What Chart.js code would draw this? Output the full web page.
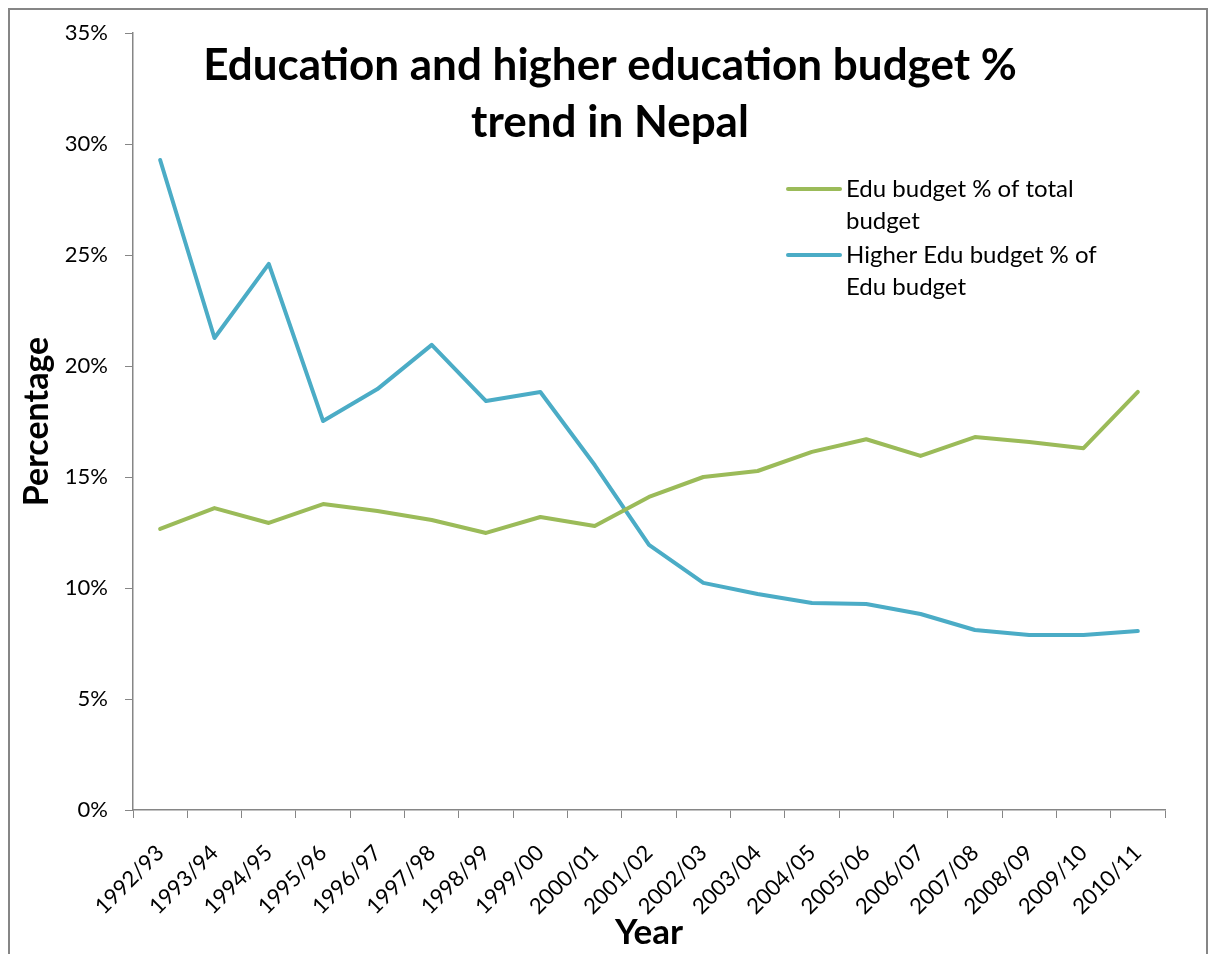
<!DOCTYPE html>
<html>
<head>
<meta charset="utf-8">
<script src="https://cdn.jsdelivr.net/npm/chart.js@4.4.1/dist/chart.umd.min.js"></script>
<style>
  body { margin: 0; background: #fff; }
  #wrap { width: 1213px; height: 954px; }
</style>
</head>
<body>
<div id="wrap"><canvas id="budget-chart" width="1213" height="954"></canvas></div>
<script>
// Fiscal years (Nepal)
const years = ['1992/93', '1993/94', '1994/95', '1995/96', '1996/97', '1997/98', '1998/99', '1999/00', '2000/01', '2001/02',
    '2002/03', '2003/04', '2004/05', '2005/06', '2006/07', '2007/08', '2008/09', '2009/10', '2010/11'];
// Education budget as % of total budget
const eduShare = [12.66, 13.6, 12.93, 13.78, 13.47, 13.06, 12.48, 13.2, 12.79, 14.1,
    15.0, 15.27, 16.13, 16.7, 15.95, 16.8, 16.58, 16.3, 18.83];
// Higher education budget as % of education budget
const higherEduShare = [29.28, 21.26, 24.6, 17.52, 18.96, 20.95, 18.42, 18.83, 15.54, 11.94,
    10.23, 9.73, 9.32, 9.28, 8.83, 8.11, 7.88, 7.88, 8.06];
const yTicks = [0, 5, 10, 15, 20, 25, 30, 35];

const titleLines = ['Education and higher education budget %', 'trend in Nepal'];
const legendLines = [['Edu budget % of total', 'budget'], ['Higher Edu budget % of', 'Edu budget']];

const FONT = 'Lato, "Open Sans", sans-serif';
const axisGray = '#868686';

// title + legend sit inside the plot, like the Excel original
const overlay = {
    id: 'overlay',
    beforeDraw(chart) {
        const c = chart.ctx;
        c.save();
        c.strokeStyle = axisGray;
        c.lineWidth = 2;
        c.strokeRect(9, 9, 1198, 960);
        c.restore();
    },
    afterDraw(chart) {
        const c = chart.ctx;
        c.save();
        c.fillStyle = '#000';
        c.textAlign = 'center';
        c.textBaseline = 'middle';
        c.font = 'bold 44px ' + FONT;
        titleLines.forEach((t, i) => c.fillText(t, 610, 66 + i * 57));

        c.textAlign = 'left';
        c.font = '24px ' + FONT;
        const rows = [189, 255];
        chart.data.datasets.forEach((ds, i) => {
            const y = rows[i];
            c.strokeStyle = ds.borderColor;
            c.lineWidth = 4;
            c.lineCap = 'round';
            c.beginPath();
            c.moveTo(788, y);
            c.lineTo(840, y);
            c.stroke();
            legendLines[i].forEach((t, j) => c.fillText(t, 846, y + j * 32));
        });
        c.restore();
    }
};

const ctx = document.getElementById('budget-chart').getContext('2d');
const budgetChart = new Chart(ctx, {
    type: 'line',
    data: {
        labels: years,
        datasets: [
            {
                label: 'Edu budget % of total budget',
                data: eduShare,
                borderColor: '#9BBB59',
                borderWidth: 4,
                pointRadius: 0,
                tension: 0,
                fill: false,
                borderJoinStyle: 'round',
                borderCapStyle: 'round',
            },
            {
                label: 'Higher Edu budget % of Edu budget',
                data: higherEduShare,
                borderColor: '#4BACC6',
                borderWidth: 4,
                pointRadius: 0,
                tension: 0,
                fill: false,
                borderJoinStyle: 'round',
                borderCapStyle: 'round',
            },
        ],
    },
    options: {
        responsive: false,
        animation: false,
        layout: { padding: { top: 33, right: 48, left: 0, bottom: 0 } },
        plugins: {
            legend: { display: false },
            title: { display: false },
            tooltip: { enabled: false },
        },
        scales: {
            x: {
                offset: true,
                grid: { offset: true, drawOnChartArea: false, drawTicks: true, tickLength: 8, color: axisGray },
                border: { color: axisGray, width: 1.5 },
                ticks: {
                    color: '#000',
                    font: { family: FONT, size: 22 },
                    minRotation: 45,
                    maxRotation: 45,
                    autoSkip: false,
                    padding: 22,
                },
                title: {
                    display: true,
                    text: 'Year',
                    color: '#000',
                    font: { family: FONT, size: 35, weight: 'bold' },
                    padding: { top: 4, bottom: 0 },
                },
                afterFit(scale) { scale.height = 144; },
            },
            y: {
                min: 0,
                max: 35,
                afterBuildTicks(scale) { scale.ticks = yTicks.map(v => ({ value: v })); },
                grid: { drawOnChartArea: false, drawTicks: true, tickLength: 8, color: axisGray },
                border: { color: axisGray, width: 1.5 },
                ticks: {
                    color: '#000',
                    font: { family: FONT, size: 22 },
                    padding: 17,
                    callback: v => v + '%',
                },
                title: {
                    display: true,
                    text: 'Percentage',
                    color: '#000',
                    font: { family: FONT, size: 34, weight: 'bold' },
                    padding: { top: 17, bottom: 4 },
                },
                afterFit(scale) { scale.width = 133; },
            },
        },
    },
    plugins: [overlay],
});
</script>
</body>
</html>
